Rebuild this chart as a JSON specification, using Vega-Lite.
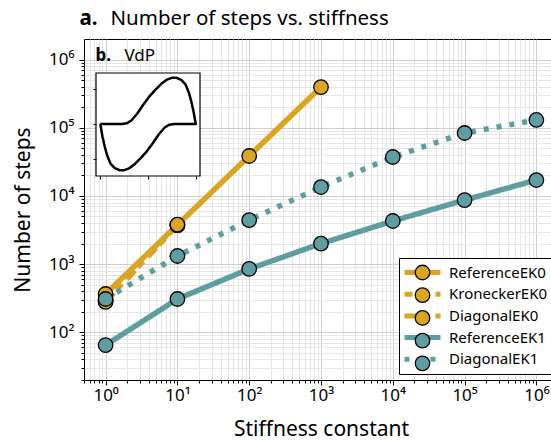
{
  "$schema": "https://vega.github.io/schema/vega-lite/v6.json",
  "width": 474,
  "height": 341,
  "autosize": {"type": "none"},
  "padding": {"left": 84, "top": 39, "right": 0, "bottom": 61},
  "background": "white",
  "config": {
    "view": {"stroke": "black", "strokeWidth": 1},
    "font": "Noto Sans"
  },
  "datasets": {
    "steps": [
      {"method": "ReferenceEK0", "k": 1, "steps": 365},
      {"method": "ReferenceEK0", "k": 10, "steps": 3750},
      {"method": "ReferenceEK0", "k": 100, "steps": 38500},
      {"method": "ReferenceEK0", "k": 1000, "steps": 395000},
      {"method": "KroneckerEK0", "k": 1, "steps": 290},
      {"method": "KroneckerEK0", "k": 10, "steps": 3700},
      {"method": "DiagonalEK0", "k": 1, "steps": 280},
      {"method": "DiagonalEK0", "k": 10, "steps": 3800},
      {"method": "ReferenceEK1", "k": 1, "steps": 65},
      {"method": "ReferenceEK1", "k": 10, "steps": 308},
      {"method": "ReferenceEK1", "k": 100, "steps": 850},
      {"method": "ReferenceEK1", "k": 1000, "steps": 2000},
      {"method": "ReferenceEK1", "k": 10000, "steps": 4290},
      {"method": "ReferenceEK1", "k": 100000, "steps": 8700},
      {"method": "ReferenceEK1", "k": 1000000, "steps": 17100},
      {"method": "DiagonalEK1", "k": 1, "steps": 308},
      {"method": "DiagonalEK1", "k": 10, "steps": 1315},
      {"method": "DiagonalEK1", "k": 100, "steps": 4430},
      {"method": "DiagonalEK1", "k": 1000, "steps": 13500},
      {"method": "DiagonalEK1", "k": 10000, "steps": 37200},
      {"method": "DiagonalEK1", "k": 100000, "steps": 83700},
      {"method": "DiagonalEK1", "k": 1000000, "steps": 130000}
    ],
    "vdp": [
      {"i": 0, "u": -2.01, "v": 0},
      {"i": 1, "u": -1.5, "v": 0},
      {"i": 2, "u": -1.1, "v": 0},
      {"i": 3, "u": -0.9, "v": 0.02},
      {"i": 4, "u": -0.7, "v": 0.1},
      {"i": 5, "u": -0.45, "v": 0.3},
      {"i": 6, "u": -0.2, "v": 0.55},
      {"i": 7, "u": 0.05, "v": 0.78},
      {"i": 8, "u": 0.3, "v": 0.97},
      {"i": 9, "u": 0.58, "v": 1.16},
      {"i": 10, "u": 0.8, "v": 1.27},
      {"i": 11, "u": 1.0, "v": 1.32},
      {"i": 12, "u": 1.2, "v": 1.32},
      {"i": 13, "u": 1.4, "v": 1.26},
      {"i": 14, "u": 1.58, "v": 1.13},
      {"i": 15, "u": 1.72, "v": 0.9},
      {"i": 16, "u": 1.82, "v": 0.65},
      {"i": 17, "u": 1.92, "v": 0.35},
      {"i": 18, "u": 2.01, "v": 0},
      {"i": 19, "u": 1.5, "v": 0},
      {"i": 20, "u": 1.1, "v": 0},
      {"i": 21, "u": 0.9, "v": -0.02},
      {"i": 22, "u": 0.7, "v": -0.1},
      {"i": 23, "u": 0.45, "v": -0.3},
      {"i": 24, "u": 0.2, "v": -0.55},
      {"i": 25, "u": -0.05, "v": -0.78},
      {"i": 26, "u": -0.3, "v": -0.97},
      {"i": 27, "u": -0.58, "v": -1.16},
      {"i": 28, "u": -0.8, "v": -1.27},
      {"i": 29, "u": -1.0, "v": -1.32},
      {"i": 30, "u": -1.2, "v": -1.32},
      {"i": 31, "u": -1.4, "v": -1.26},
      {"i": 32, "u": -1.58, "v": -1.13},
      {"i": 33, "u": -1.72, "v": -0.9},
      {"i": 34, "u": -1.82, "v": -0.65},
      {"i": 35, "u": -1.92, "v": -0.35},
      {"i": 36, "u": -2.01, "v": 0}
    ]
  },
  "layer": [
    {
      "data": {"name": "steps"},
      "encoding": {
        "x": {
          "field": "k",
          "type": "quantitative",
          "scale": {"type": "log", "domain": [0.5, 2000000], "nice": false},
          "axis": {
            "orient": "bottom",
            "title": "Stiffness constant",
            "titleFont": "Noto Sans",
            "titleFontSize": 21,
            "titleFontWeight": "normal",
            "titleColor": "black",
            "titlePadding": 15,
            "values": [0.5, 0.6, 0.7, 0.8, 0.9, 1, 2, 3, 4, 5, 6, 7, 8, 9, 10, 20, 30, 40, 50, 60, 70, 80, 90, 100, 200, 300, 400, 500, 600, 700, 800, 900, 1000, 2000, 3000, 4000, 5000, 6000, 7000, 8000, 9000, 10000, 20000, 30000, 40000, 50000, 60000, 70000, 80000, 90000, 100000, 200000, 300000, 400000, 500000, 600000, 700000, 800000, 900000, 1000000, 2000000],
            "labelExpr": "abs(log(datum.value)/LN10 - round(log(datum.value)/LN10)) < 0.001 ? '10' + substring('⁰¹²³⁴⁵⁶', round(log(datum.value)/LN10), round(log(datum.value)/LN10) + 1) : ''",
            "labelFont": "Noto Sans",
            "labelFontSize": 17,
            "labelColor": "black",
            "labelPadding": 2,
            "labelOverlap": false,
            "labelBound": false,
            "labelFlush": false,
            "domainColor": "black",
            "tickColor": "black",
            "tickSize": {"condition": {"test": "abs(log(datum.value)/LN10 - round(log(datum.value)/LN10)) < 0.001", "value": 5}, "value": 3},
            "grid": true,
            "gridColor": {"condition": {"test": "abs(log(datum.value)/LN10 - round(log(datum.value)/LN10)) < 0.001", "value": "#cfcfcf"}, "value": "#e6e6e6"},
            "gridWidth": 1
          }
        },
        "y": {
          "field": "steps",
          "type": "quantitative",
          "scale": {"type": "log", "domain": [20, 2000000], "nice": false},
          "axis": {
            "orient": "left",
            "title": "Number of steps",
            "titleFont": "Noto Sans",
            "titleFontSize": 21,
            "titleFontWeight": "normal",
            "titleColor": "black",
            "titlePadding": 15,
            "values": [20, 30, 40, 50, 60, 70, 80, 90, 100, 200, 300, 400, 500, 600, 700, 800, 900, 1000, 2000, 3000, 4000, 5000, 6000, 7000, 8000, 9000, 10000, 20000, 30000, 40000, 50000, 60000, 70000, 80000, 90000, 100000, 200000, 300000, 400000, 500000, 600000, 700000, 800000, 900000, 1000000],
            "labelExpr": "abs(log(datum.value)/LN10 - round(log(datum.value)/LN10)) < 0.001 ? '10' + substring('⁰¹²³⁴⁵⁶', round(log(datum.value)/LN10), round(log(datum.value)/LN10) + 1) : ''",
            "labelFont": "Noto Sans",
            "labelFontSize": 17,
            "labelColor": "black",
            "labelPadding": 5,
            "labelOverlap": false,
            "labelBound": false,
            "labelFlush": false,
            "domainColor": "black",
            "tickColor": "black",
            "tickSize": {"condition": {"test": "abs(log(datum.value)/LN10 - round(log(datum.value)/LN10)) < 0.001", "value": 5}, "value": 3},
            "grid": true,
            "gridColor": {"condition": {"test": "abs(log(datum.value)/LN10 - round(log(datum.value)/LN10)) < 0.001", "value": "#cfcfcf"}, "value": "#e6e6e6"},
            "gridWidth": 1
          }
        }
      },
      "layer": [
        {
          "mark": {"type": "line", "strokeWidth": 5.5, "strokeCap": "butt", "clip": true},
          "encoding": {
            "stroke": {
              "field": "method",
              "type": "nominal",
              "scale": {
                "domain": ["ReferenceEK0", "KroneckerEK0", "DiagonalEK0", "ReferenceEK1", "DiagonalEK1"],
                "range": ["#DAA520", "#DAA520", "#DAA520", "#5F9EA0", "#5F9EA0"]
              },
              "legend": {
                "title": null,
                "orient": "none",
                "legendX": 315,
                "legendY": 219,
                "symbolType": "M-2.25,0L2.25,0",
                "symbolSize": 256,
                "symbolStrokeWidth": 5,
                "symbolOffset": 9,
                "labelFont": "Noto Sans",
                "labelFontSize": 15,
                "labelColor": "black",
                "labelOffset": 16,
                "labelLimit": 0,
                "rowPadding": 0.7,
                "padding": 4,
                "strokeColor": "black",
                "fillColor": "white",
                "zindex": 1
              }
            },
            "strokeDash": {
              "field": "method",
              "type": "nominal",
              "scale": {
                "domain": ["ReferenceEK0", "KroneckerEK0", "DiagonalEK0", "ReferenceEK1", "DiagonalEK1"],
                "range": [[1, 0], [8, 7.5], [12, 19], [1, 0], [5, 8]]
              },
              "legend": {
                "title": null,
                "orient": "none",
                "legendX": 315,
                "legendY": 219,
                "symbolType": "M-2.25,0L2.25,0",
                "symbolSize": 256,
                "symbolStrokeWidth": 5,
                "symbolOffset": 9,
                "labelFont": "Noto Sans",
                "labelFontSize": 15,
                "labelColor": "black",
                "labelOffset": 16,
                "labelLimit": 0,
                "rowPadding": 0.7,
                "padding": 4,
                "strokeColor": "black",
                "fillColor": "white",
                "zindex": 1
              }
            }
          }
        },
        {
          "mark": {"type": "point", "shape": "circle", "filled": true, "size": 210, "stroke": "black", "strokeWidth": 1.3, "opacity": 1},
          "encoding": {
            "fill": {
              "field": "method",
              "type": "nominal",
              "sort": ["ReferenceEK0", "KroneckerEK0", "DiagonalEK0", "ReferenceEK1", "DiagonalEK1"],
              "scale": {"range": ["#DAA520", "#DAA520", "#DAA520", "#5F9EA0", "#5F9EA0"]},
              "legend": {
                "title": null,
                "orient": "none",
                "legendX": 315,
                "legendY": 219,
                "symbolType": "circle",
                "symbolSize": 210,
                "symbolStrokeColor": "black",
                "symbolStrokeWidth": 1.3,
                "symbolOpacity": 1,
                "symbolOffset": 9,
                "labelFontSize": 21,
                "labelExpr": "''",
                "rowPadding": 0.7,
                "padding": 4,
                "zindex": 2
              }
            }
          }
        },
        {
          "transform": [{"filter": "datum.k == 1000 && datum.method == 'ReferenceEK0'"}],
          "mark": {"type": "text", "text": "a.", "font": "Noto Sans", "fontSize": 20.5, "fontWeight": "bold", "align": "left", "baseline": "alphabetic", "color": "black", "clip": false},
          "encoding": {
            "x": {"datum": 0.4327},
            "y": {"datum": 3208000}
          }
        },
        {
          "transform": [{"filter": "datum.k == 1000 && datum.method == 'ReferenceEK0'"}],
          "mark": {"type": "text", "text": "Number of steps vs. stiffness", "font": "Noto Sans", "fontSize": 20.5, "fontWeight": "normal", "align": "left", "baseline": "alphabetic", "color": "black", "clip": false},
          "encoding": {
            "x": {"datum": 1.17},
            "y": {"datum": 3208000}
          }
        }
      ]
    },
    {
      "data": {"name": "vdp"},
      "encoding": {
        "x": {
          "field": "u",
          "type": "quantitative",
          "scale": {"domain": [-2.6947, 17.263], "nice": false, "zero": false},
          "axis": {
            "orient": "bottom",
            "offset": -204,
            "values": [-2, 0, 2],
            "labels": false,
            "domain": false,
            "grid": false,
            "title": null,
            "tickSize": 3,
            "tickColor": "black",
            "tickWidth": 1,
            "zindex": 1
          }
        },
        "y": {
          "field": "v",
          "type": "quantitative",
          "scale": {"domain": [-7.3143, 2.4286], "nice": false, "zero": false},
          "axis": {
            "orient": "left",
            "offset": -12,
            "values": [-1, 0, 1],
            "labels": false,
            "domain": false,
            "grid": false,
            "title": null,
            "tickSize": 3,
            "tickColor": "black",
            "tickWidth": 1,
            "zindex": 1
          }
        }
      },
      "layer": [
        {
          "transform": [{"filter": "datum.i == 0"}],
          "mark": {"type": "rect", "fill": "white", "stroke": "black", "strokeWidth": 1.2},
          "encoding": {
            "x": {"datum": -2.19},
            "x2": {"datum": 2.19},
            "y": {"datum": 1.457},
            "y2": {"datum": -1.486}
          }
        },
        {
          "mark": {"type": "line", "stroke": "black", "strokeWidth": 2.5, "strokeJoin": "round"},
          "encoding": {
            "order": {"field": "i", "type": "quantitative"}
          }
        },
        {
          "transform": [{"filter": "datum.i == 0"}],
          "mark": {"type": "text", "text": "b.", "font": "Noto Sans", "fontSize": 17, "fontWeight": "bold", "align": "left", "baseline": "alphabetic", "color": "black"},
          "encoding": {
            "x": {"datum": -2.21},
            "y": {"datum": 1.786}
          }
        },
        {
          "transform": [{"filter": "datum.i == 0"}],
          "mark": {"type": "text", "text": "VdP", "font": "Noto Sans", "fontSize": 17, "fontWeight": "normal", "align": "left", "baseline": "alphabetic", "color": "black"},
          "encoding": {
            "x": {"datum": -0.99},
            "y": {"datum": 1.786}
          }
        }
      ]
    }
  ],
  "resolve": {"scale": {"x": "independent", "y": "independent"}}
}
